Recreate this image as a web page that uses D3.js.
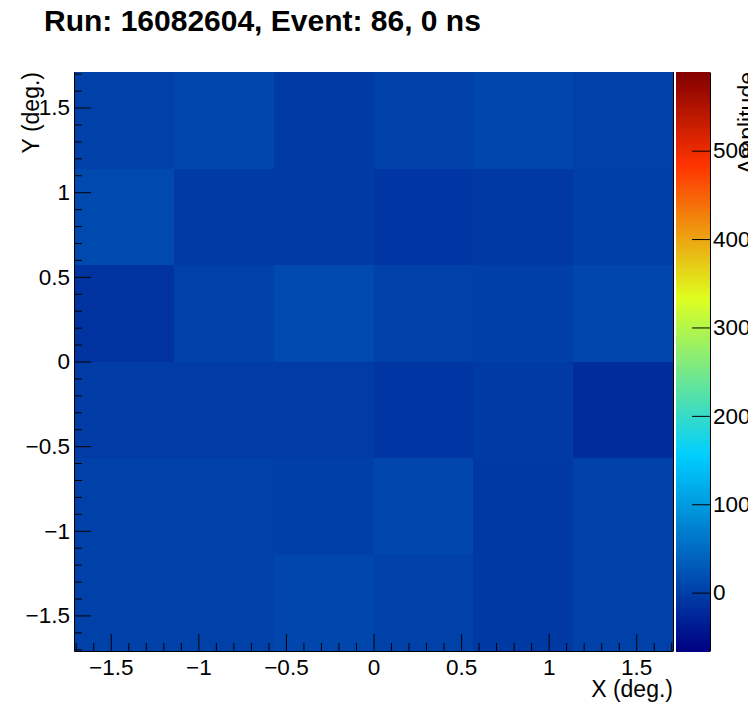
<!DOCTYPE html>
<html>
<head>
<meta charset="utf-8">
<script src="https://cdn.jsdelivr.net/npm/d3@7"></script>
<style>
  html, body { margin: 0; padding: 0; background: #fff; }
  svg { display: block; }
  text { font-family: "Liberation Sans", Arial, Helvetica, sans-serif; fill: #000; }
</style>
</head>
<body>
<svg id="chart" width="748" height="724"></svg>
<script>
// ---- data ----
const titleText = "Run: 16082604, Event: 86, 0 ns";
const xTitle = "X (deg.)";
const yTitle = "Y (deg.)";
const zTitle = "Amplitude";
const xEdges = [-1.71, -1.14, -0.57, 0, 0.57, 1.14, 1.71];
const yEdges = [1.71, 1.14, 0.57, 0, -0.57, -1.14, -1.71]; // top to bottom
// amplitude per cell, rows top -> bottom, columns left -> right
const row0 = [3, 9, -4, 4, 9, 4];
const row1 = [14, -4, -4, -8, -6, 1];
const row2 = [-12, 3, 14, 4, 1, 9];
const row3 = [-2, -2, -2, -8, -4, -19];
const row4 = [3, 3, 1, 9, -6, 3];
const row5 = [3, 3, 9, 3, -6, 3];
const rows = [row0, row1, row2, row3, row4, row5];
const xTicks = [-1.5, -1, -0.5, 0, 0.5, 1, 1.5];
const yTicks = [-1.5, -1, -0.5, 0, 0.5, 1, 1.5];
const zTicks = [0, 100, 200, 300, 400, 500];
const zRange = [-66, 589];
// palette stops (ROOT-style)
const palStops = [0.00, 0.34, 0.61, 0.84, 1.00];
const palColors = ["#000082", "#00cfff", "#deff1f", "#ff3300", "#820000"];

// ---- drawing ----
const svg = d3.select("#chart");
const plot = { left: 74, right: 673, top: 72, bottom: 651 };
const cbar = { left: 676, right: 710 };
const labelSize = 22.5;

const x = d3.scaleLinear().domain([xEdges[0], xEdges[xEdges.length - 1]]).range([plot.left, plot.right]);
const y = d3.scaleLinear().domain([yEdges[yEdges.length - 1], yEdges[0]]).range([plot.bottom, plot.top]);
const z = d3.scaleLinear().domain(zRange).range([plot.bottom, plot.top]);
const pal = d3.scaleLinear().domain(palStops).range(palColors).interpolate(d3.interpolateRgb).clamp(true);
const colorOf = v => pal((v - zRange[0]) / (zRange[1] - zRange[0]));

// cells
const cells = [];
rows.forEach((r, i) => r.forEach((v, j) => cells.push({ i, j, v })));
svg.append("g").selectAll("rect").data(cells).join("rect")
  .attr("x", d => x(xEdges[d.j]))
  .attr("y", d => y(yEdges[d.i]))
  .attr("width", d => x(xEdges[d.j + 1]) - x(xEdges[d.j]))
  .attr("height", d => y(yEdges[d.i + 1]) - y(yEdges[d.i]))
  .attr("fill", d => colorOf(d.v))
  .attr("shape-rendering", "crispEdges");

// right frame line
svg.append("line")
  .attr("x1", plot.right + 0.5).attr("x2", plot.right + 0.5)
  .attr("y1", plot.top).attr("y2", plot.bottom)
  .attr("stroke", "#000").attr("stroke-width", 1);

// minor ticks
const xMinor = d3.range(-17, 18).map(k => k / 10).filter(v => Math.abs(v * 2 - Math.round(v * 2)) > 1e-6);
const yMinor = xMinor.slice();

const fmt = d3.format("~g");
const axisStyle = g => {
  g.selectAll(".domain").attr("stroke", "#000").attr("stroke-width", 1);
  g.selectAll(".tick line").attr("stroke", "#000").attr("stroke-width", 1);
  g.selectAll("text").attr("font-size", labelSize).attr("font-family", '"Liberation Sans", Arial, sans-serif').attr("fill", "#000");
};

// X axis
const gx = svg.append("g").attr("transform", `translate(0,${plot.bottom})`)
  .call(d3.axisBottom(x).tickValues(xTicks).tickFormat(fmt).tickSizeInner(-17).tickSizeOuter(0).tickPadding(8));
axisStyle(gx);
svg.append("g").attr("transform", `translate(0,${plot.bottom})`)
  .call(d3.axisBottom(x).tickValues(xMinor).tickFormat("").tickSizeInner(-8).tickSizeOuter(0))
  .call(g => { g.select(".domain").remove(); g.selectAll("line").attr("stroke", "#000"); });

// Y axis
const gy = svg.append("g").attr("transform", `translate(${plot.left},0)`)
  .call(d3.axisLeft(y).tickValues(yTicks).tickFormat(fmt).tickSizeInner(-17).tickSizeOuter(0).tickPadding(4));
axisStyle(gy);
svg.append("g").attr("transform", `translate(${plot.left},0)`)
  .call(d3.axisLeft(y).tickValues(yMinor).tickFormat("").tickSizeInner(-8).tickSizeOuter(0))
  .call(g => { g.select(".domain").remove(); g.selectAll("line").attr("stroke", "#000"); });

// colour bar bands
const nBands = 200;
const bands = d3.range(nBands).map(k => zRange[0] + (k / nBands) * (zRange[1] - zRange[0]));
const bandH = (zRange[1] - zRange[0]) / nBands;
svg.append("g").selectAll("rect").data(bands).join("rect")
  .attr("x", cbar.left)
  .attr("width", cbar.right - cbar.left)
  .attr("y", d => z(d + bandH))
  .attr("height", d => z(d) - z(d + bandH) + 0.5)
  .attr("fill", d => colorOf(d + bandH / 2))
  .attr("shape-rendering", "crispEdges");

// colour bar axis
const gz = svg.append("g").attr("transform", `translate(${cbar.right},0)`)
  .call(d3.axisRight(z).tickValues(zTicks).tickFormat(fmt).tickSizeInner(-18).tickSizeOuter(0).tickPadding(3));
axisStyle(gz);

// titles
svg.append("text").attr("x", 44).attr("y", 31)
  .attr("font-size", 30).attr("font-weight", "bold").text(titleText);
svg.append("text").attr("x", plot.right).attr("y", 697)
  .attr("text-anchor", "end").attr("font-size", 23).text(xTitle);
svg.append("text").attr("transform", `translate(39,${plot.top}) rotate(-90)`)
  .attr("text-anchor", "end").attr("font-size", 23).text(yTitle);
svg.append("text").attr("transform", `translate(755,${plot.top}) rotate(-90)`)
  .attr("text-anchor", "end").attr("font-size", 23).text(zTitle);
</script>
</body>
</html>
